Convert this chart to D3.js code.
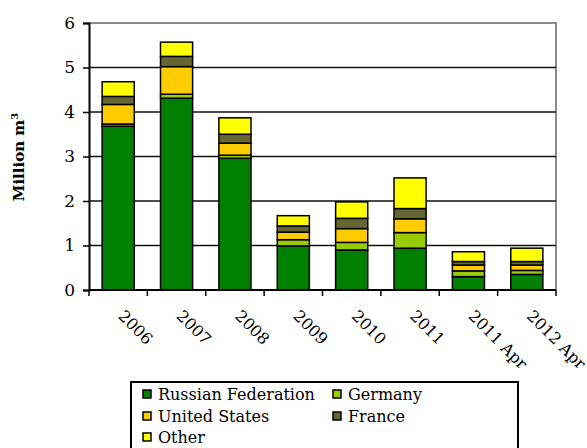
<!DOCTYPE html>
<html>
<head>
<meta charset="utf-8">
<script src="https://cdn.jsdelivr.net/npm/d3@7.9.0/dist/d3.min.js"></script>
<style>
  body { margin: 0; background: #fff; }
  svg text { font-family: "DejaVu Serif", serif; fill: #000; }
</style>
</head>
<body>
<svg width="587" height="448"></svg>
<script>
// categories and series (million m3)
const periods = ['2006', '2007', '2008', '2009', '2010', '2011', '2011 Apr', '2012 Apr'];
const russia  = [3.68, 4.31, 2.96, 0.99, 0.90, 0.94, 0.30, 0.35];
const germany = [0.05, 0.09, 0.07, 0.14, 0.17, 0.35, 0.13, 0.09];
const usa     = [0.44, 0.62, 0.27, 0.17, 0.31, 0.31, 0.13, 0.12];
const france  = [0.18, 0.23, 0.20, 0.14, 0.23, 0.23, 0.08, 0.08];
const other   = [0.33, 0.32, 0.37, 0.23, 0.37, 0.69, 0.22, 0.30];
const seriesNames = ['Russian Federation', 'Germany', 'United States', 'France', 'Other'];
const yTicks = [0, 1, 2, 3, 4, 5, 6];

const colors = d3.scaleOrdinal()
    .domain(seriesNames)
    .range(['#007f00', '#99cc00', '#ffcc00', '#666633', '#ffff00']);

const table = periods.map((p, i) => ({
    period: p,
    'Russian Federation': russia[i],
    'Germany': germany[i],
    'United States': usa[i],
    'France': france[i],
    'Other': other[i]
}));

const svg = d3.select('svg');
const plotL = 89, plotR = 556, plotT = 23, plotB = 290;

const x = d3.scaleBand().domain(periods).range([plotL, plotR]).paddingInner(0.45).paddingOuter(0.225);
const y = d3.scaleLinear().domain([0, 6]).range([plotB, plotT]);

// plot frame (grey top/right)
svg.append('path')
    .attr('d', `M${plotL},${plotT}H${plotR}V${plotB}`)
    .attr('fill', 'none')
    .attr('stroke', '#8c8c8c')
    .attr('stroke-width', 2);

// gridlines
svg.append('g')
    .selectAll('line')
    .data(yTicks.filter(d => d > 0 && d < 6))
    .join('line')
    .attr('x1', plotL).attr('x2', plotR)
    .attr('y1', d => y(d)).attr('y2', d => y(d))
    .attr('stroke', '#111')
    .attr('stroke-width', 1.6);

// stacked bars
const stacked = d3.stack().keys(seriesNames)(table);
svg.append('g')
    .selectAll('g')
    .data(stacked)
    .join('g')
    .attr('fill', d => colors(d.key))
    .selectAll('rect')
    .data(d => d)
    .join('rect')
    .attr('x', d => x(d.data.period))
    .attr('width', x.bandwidth())
    .attr('y', d => y(d[1]))
    .attr('height', d => y(d[0]) - y(d[1]))
    .attr('stroke', '#000')
    .attr('stroke-width', 1.5);

// y axis
const yAxis = svg.append('g')
    .attr('transform', `translate(${plotL},0)`)
    .call(d3.axisLeft(y).tickValues(yTicks).tickFormat(d3.format('d')).tickSize(6).tickPadding(8));
yAxis.attr('font-family', null);
yAxis.select('.domain').attr('stroke-width', 2);
yAxis.selectAll('.tick line').attr('stroke-width', 1.5);
yAxis.selectAll('text').attr('font-size', 17);

// x axis, ticks on band edges
const xAxis = svg.append('g')
    .attr('transform', `translate(0,${plotB})`);
xAxis.append('line')
    .attr('x1', plotL).attr('x2', plotR)
    .attr('stroke', '#000').attr('stroke-width', 2);
const edges = periods.map(p => x(p) - x.step() * x.paddingInner() / 2).concat([plotR]);
xAxis.selectAll('.edge')
    .data(edges)
    .join('line')
    .attr('class', 'edge')
    .attr('x1', d => d).attr('x2', d => d)
    .attr('y1', 0).attr('y2', 6)
    .attr('stroke', '#000').attr('stroke-width', 1.5);
xAxis.selectAll('text')
    .data(periods)
    .join('text')
    .attr('transform', p => `translate(${x(p) + x.bandwidth() / 2 + 3},${23}) rotate(45)`)
    .attr('font-size', 16)
    .attr('dy', '0.35em')
    .text(d => d);

// y label
svg.append('text')
    .attr('transform', `translate(24,157) rotate(-90)`)
    .attr('text-anchor', 'middle')
    .attr('font-size', 15)
    .attr('font-weight', 'bold')
    .html('Million m<tspan dy="-6" font-size="10">3</tspan>');

// legend
const legend = svg.append('g');
legend.append('rect')
    .attr('x', 131).attr('y', 382)
    .attr('width', 387).attr('height', 80)
    .attr('fill', '#fff')
    .attr('stroke', '#000')
    .attr('stroke-width', 2);
const legendPos = [[143, 394], [333, 394], [143, 416], [333, 416], [143, 437]];
const items = legend.selectAll('.item')
    .data(seriesNames)
    .join('g')
    .attr('class', 'item')
    .attr('transform', (d, i) => `translate(${legendPos[i][0]},${legendPos[i][1]})`);
items.append('rect')
    .attr('x', 0).attr('y', -4)
    .attr('width', 8).attr('height', 8)
    .attr('fill', d => colors(d))
    .attr('stroke', '#000')
    .attr('stroke-width', 1.5);
items.append('text')
    .attr('x', 15)
    .attr('dy', '0.35em')
    .attr('font-size', 16)
    .text(d => d);
</script>
</body>
</html>
